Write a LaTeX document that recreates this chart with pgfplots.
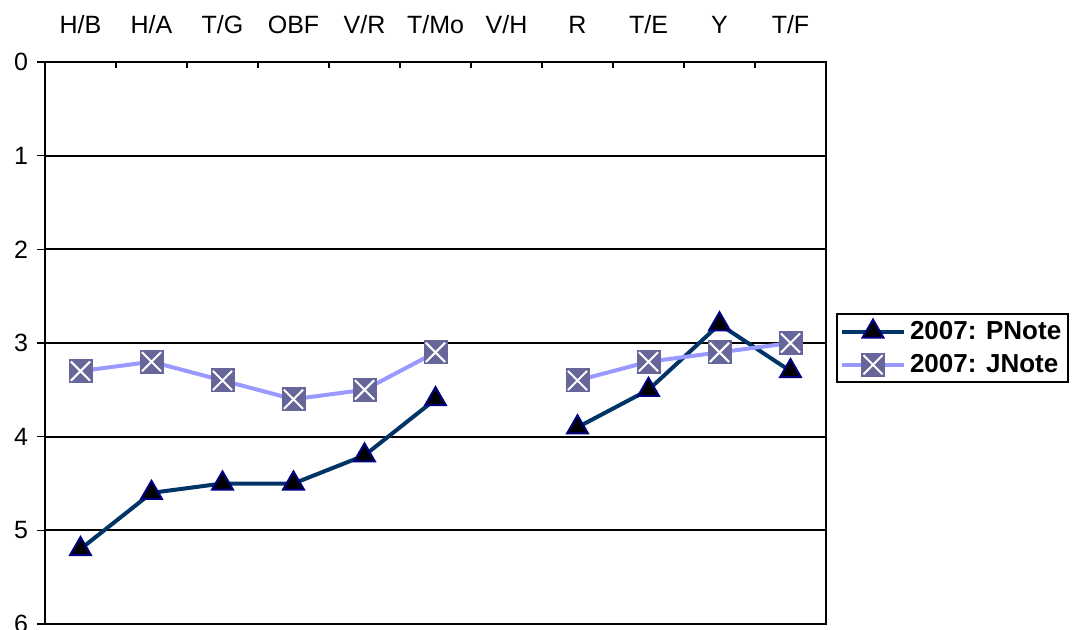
\documentclass[border=0pt]{standalone}
\usepackage{pgfplots}
\pgfplotsset{compat=1.18}
\usepackage{fontspec}
\setmainfont{Liberation Sans}
\definecolor{pline}{HTML}{003366}
\definecolor{pedge}{HTML}{000080}
\definecolor{jline}{HTML}{9999FF}
\definecolor{jfill}{HTML}{666699}
\pgfdeclareplotmark{sqx}{%
  \pgfpathrectangle{\pgfqpoint{-\pgfplotmarksize}{-\pgfplotmarksize}}{\pgfqpoint{2\pgfplotmarksize}{2\pgfplotmarksize}}%
  \pgfusepath{fill}%
  \pgfsetstrokecolor{white}\pgfsetlinewidth{1pt}%
  \pgfpathmoveto{\pgfqpoint{-0.8\pgfplotmarksize}{-0.8\pgfplotmarksize}}%
  \pgfpathlineto{\pgfqpoint{0.8\pgfplotmarksize}{0.8\pgfplotmarksize}}%
  \pgfpathmoveto{\pgfqpoint{-0.8\pgfplotmarksize}{0.8\pgfplotmarksize}}%
  \pgfpathlineto{\pgfqpoint{0.8\pgfplotmarksize}{-0.8\pgfplotmarksize}}%
  \pgfusepath{stroke}}
\begin{document}
\begin{tikzpicture}
\begin{axis}[
  at={(22.5pt,3pt)}, anchor=south west,
  scale only axis, width=390.5pt, height=281pt,
  xmin=-0.5, xmax=10.5, ymin=0, ymax=6,
  y dir=reverse,
  axis line style={line width=1pt},
  xtick={0,...,10},
  xticklabels={H/B,H/A,T/G,OBF,V/R,T/Mo,V/H,R,T/E,Y,T/F},
  xtick pos=top, xticklabel pos=top,
  ytick pos=left,
  x tick label style={yshift=6.5pt},
  major x tick style={draw=none},
  minor xtick={-0.5,0.5,...,10.5},
  minor x tick style={line width=0.8pt, black, yshift=-3pt},
  minor tick length=3pt,
  ytick={0,...,6},
  ymajorgrids,
  grid style={line width=1pt, black},
  y tick style={line width=0.8pt, black},
  major tick length=4pt,
  tick align=outside,
  y tick label style={xshift=-1pt},
  tick label style={font=\fontsize{12.5}{14}\selectfont},
  /pgf/number format/assume math mode=true,
  unbounded coords=jump,
  legend style={at={(axis description cs:1.0128,0.5534)}, anchor=north west,
    draw=black, line width=1pt, font=\bfseries\fontsize{13}{14}\selectfont,
    inner sep=1.5pt, row sep=2pt, cells={anchor=west}},
  legend image code/.code={%
    \draw[mark repeat=2,mark phase=2] plot coordinates {(0pt,0pt)(15.5pt,0pt)(31pt,0pt)};},
  clip=false,
]
\addplot[pline, line width=2pt, mark=triangle*, mark size=6pt,
  mark options={fill=black, draw=pedge, line width=1pt}]
  table[row sep=\\] {x y\\ 0 5.2\\ 1 4.6\\ 2 4.5\\ 3 4.5\\ 4 4.2\\ 5 3.6\\ 6 nan\\ 7 3.9\\ 8 3.5\\ 9 2.8\\ 10 3.3\\};
\addlegendentry{2007: PNote}
\addplot[jline, line width=2pt, mark=sqx, mark size=6pt,
  mark options={fill=jfill}]
  table[row sep=\\] {x y\\ 0 3.3\\ 1 3.2\\ 2 3.4\\ 3 3.6\\ 4 3.5\\ 5 3.1\\ 6 nan\\ 7 3.4\\ 8 3.2\\ 9 3.1\\ 10 3.0\\};
\addlegendentry{2007: JNote}
\end{axis}
\pgfresetboundingbox
\path[use as bounding box] (0,0) rectangle (545pt,315pt);
\end{tikzpicture}
\end{document}
